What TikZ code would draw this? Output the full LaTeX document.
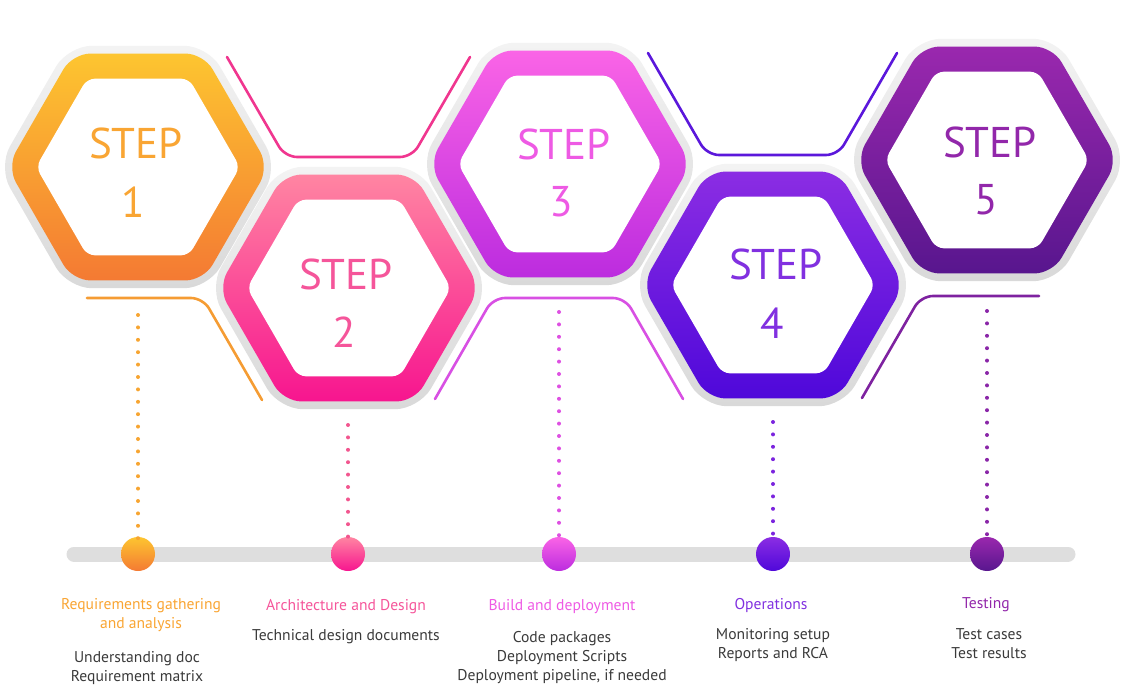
\documentclass[tikz,border=0pt]{standalone}
\usepackage{fontspec}
\setmainfont{PT Sans}
\definecolor{g1}{HTML}{F3F3F3}\definecolor{g2}{HTML}{D9D9D9}
\definecolor{o1}{HTML}{FDC530}\definecolor{o2}{HTML}{F47A33}
\definecolor{p1}{HTML}{FF85A2}\definecolor{p2}{HTML}{F7158F}
\definecolor{m1}{HTML}{FA64E6}\definecolor{m2}{HTML}{BC2CDF}
\definecolor{v1}{HTML}{8B2DE3}\definecolor{v2}{HTML}{4F08DA}
\definecolor{u1}{HTML}{9A28AE}\definecolor{u2}{HTML}{58168E}
\definecolor{t1}{HTML}{F9A533}\definecolor{t2}{HTML}{F5559A}
\definecolor{t3}{HTML}{EE5AE4}\definecolor{t4}{HTML}{8130E0}
\definecolor{t5}{HTML}{9227AA}
\definecolor{body}{HTML}{3A3A3A}\definecolor{bar}{HTML}{DEDEDE}
\definecolor{lnp}{HTML}{F0368F}\definecolor{lnv}{HTML}{5B17DB}
\definecolor{lno}{HTML}{F59C33}\definecolor{lnm}{HTML}{D850E3}
\definecolor{lnu}{HTML}{7E22A0}
\definecolor{d1}{HTML}{F7A531}\definecolor{d2}{HTML}{F2568F}
\definecolor{d3}{HTML}{DE50E2}\definecolor{d4}{HTML}{7B24DE}
\definecolor{d5}{HTML}{8A26A8}
\newcommand\hexp[1]{(90:{0.8660254*#1}) -- (120:#1) -- (180:#1) -- (240:#1) -- (300:#1) -- (0:#1) -- (60:#1) -- cycle}
\newcommand\hexagonbox[4]{% center, top colour, bottom colour
  \begin{scope}[shift={#1}]
    \shade[top color=g1, bottom color=g2, rounded corners=24] \hexp{140};
    \shade[top color=#2, bottom color=#3, rounded corners=18] \hexp{131};
    \fill[white, rounded corners=8] \hexp{102};
  \end{scope}}
\begin{document}
\begin{tikzpicture}[x=1pt,y=-1pt,
  steptxt/.style={inner sep=0, font=\fontsize{43}{50}\selectfont},
  lab/.style={anchor=base, inner sep=0, font=\fontsize{15.6}{18}\selectfont},
  bodytxt/.style={lab, text=body},
  conn/.style={line width=2.6pt, line cap=round, rounded corners=12},
  dotline/.style={line width=4pt, line cap=round, dash pattern=on 0pt off 12.4pt},
  dotc/.style={circle, minimum size=34pt, inner sep=0}]
\useasboundingbox (0,0) rectangle (1140,700);
% hexagons
\hexagonbox{(138,167)}{o1}{o2}{}
\hexagonbox{(349,288)}{p1}{p2}{}
\hexagonbox{(560,164)}{m1}{m2}{}
\hexagonbox{(773,285)}{v1}{v2}{}
\hexagonbox{(987,160)}{u1}{u2}{}
% step texts
\node[steptxt, text=t1] (s1) at (136,143) {STEP};
\node[steptxt, text=t1] (n1) at (133,202) {1};
\node[steptxt, text=t2] (s2) at (346,274) {STEP};
\node[steptxt, text=t2] (n2) at (344,332) {2};
\node[steptxt, text=t3] (s3) at (564,144) {STEP};
\node[steptxt, text=t3] (n3) at (561,202) {3};
\node[steptxt, text=t4] (s4) at (776,264) {STEP};
\node[steptxt, text=t4] (n4) at (772,323) {4};
\node[steptxt, text=t5] (s5) at (990,142) {STEP};
\node[steptxt, text=t5] (n5) at (986,200) {5};
% connector lines
\coordinate (ta1) at (227,57); \coordinate (ta2) at (285,157);
\coordinate (ta3) at (412,157); \coordinate (ta4) at (470,57);
\draw[conn, lnp] (ta1) -- (ta2) -- (ta3) -- (ta4);
\coordinate (tb1) at (648,53); \coordinate (tb2) at (707,155);
\coordinate (tb3) at (838,155); \coordinate (tb4) at (897,53);
\draw[conn, lnv] (tb1) -- (tb2) -- (tb3) -- (tb4);
\coordinate (ba1) at (87,298); \coordinate (ba2) at (203,298);
\coordinate (ba3) at (262,400);
\draw[conn, lno] (ba1) -- (ba2) -- (ba3);
\coordinate (bb1) at (435,399); \coordinate (bb2) at (493,298);
\coordinate (bb3) at (625,298); \coordinate (bb4) at (683,399);
\draw[conn, lnm] (bb1) -- (bb2) -- (bb3) -- (bb4);
\coordinate (bc1) at (862,398); \coordinate (bc2) at (921,296);
\coordinate (bc3) at (1039,296);
\draw[conn, lnu] (bc1) -- (bc2) -- (bc3);
% timeline
\coordinate (bl) at (74,554); \coordinate (br) at (1068,554);
\draw[line width=15pt, line cap=round, bar] (bl) -- (br);
\node[dotc, top color=o1, bottom color=o2] (c1) at (138,554) {};
\node[dotc, top color=p1, bottom color=p2] (c2) at (348,554) {};
\node[dotc, top color=m1, bottom color=m2] (c3) at (559,554) {};
\node[dotc, top color=v1, bottom color=v2] (c4) at (773,554) {};
\node[dotc, top color=u1, bottom color=u2] (c5) at (987,554) {};
% dotted drops
\coordinate (e1) at (138,315); \coordinate (e2) at (348,425);
\coordinate (e3) at (559,312); \coordinate (e4) at (773,422);
\coordinate (e5) at (987,311);
\draw[dotline, d1] (e1) -- ([yshift=-9pt]c1.north);
\draw[dotline, d2] (e2) -- ([yshift=-9pt]c2.north);
\draw[dotline, d3] (e3) -- ([yshift=-9pt]c3.north);
\draw[dotline, d4] (e4) -- ([yshift=-9pt]c4.north);
\draw[dotline, d5] (e5) -- ([yshift=-9pt]c5.north);
% labels
\node[lab, text=t1] (l1a) at (141,609) {Requirements gathering};
\node[lab, text=t1] (l1b) at (141,628) {and analysis};
\node[bodytxt] (b1a) at (137,662) {Understanding doc};
\node[bodytxt] (b1b) at (137,681) {Requirement matrix};
\node[lab, text=t2] (l2a) at (346,610) {Architecture and Design};
\node[bodytxt] (b2a) at (346,640) {Technical design documents};
\node[lab, text=t3] (l3a) at (562,610) {Build and deployment};
\node[bodytxt] (b3a) at (562,642) {Code packages};
\node[bodytxt] (b3b) at (562,661) {Deployment Scripts};
\node[bodytxt] (b3c) at (562,680) {Deployment pipeline, if needed};
\node[lab, text=t4] (l4a) at (771,609) {Operations};
\node[bodytxt] (b4a) at (773,639) {Monitoring setup};
\node[bodytxt] (b4b) at (773,658) {Reports and RCA};
\node[lab, text=t5] (l5a) at (986,608) {Testing};
\node[bodytxt] (b5a) at (989,639) {Test cases};
\node[bodytxt] (b5b) at (989,658) {Test results};
\end{tikzpicture}
\end{document}
